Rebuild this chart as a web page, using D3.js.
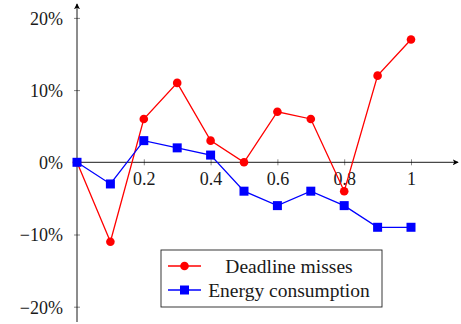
<!DOCTYPE html>
<html>
<head>
<meta charset="utf-8">
<script src="https://cdn.jsdelivr.net/npm/d3@7"></script>
<style>
  body { margin: 0; background: #fff; }
  svg text { font-family: "Liberation Serif", "DejaVu Serif", serif; fill: #1a1a1a; }
</style>
</head>
<body>
<div id="chart"></div>
<script>
// data
var xs = [0, 0.1, 0.2, 0.3, 0.4, 0.5, 0.6, 0.7, 0.8, 0.9, 1];
var deadlineMisses = [0, -11, 6, 11, 3, 0, 7, 6, -4, 12, 17];
var energyConsumption = [0, -3, 3, 2, 1, -4, -6, -4, -6, -9, -9];
var xTicks = [0.2, 0.4, 0.6, 0.8, 1];
var yTicks = [-20, -10, 0, 10, 20];
var seriesNames = ["Deadline misses", "Energy consumption"];

var width = 461, height = 324;

var svg = d3.select("#chart").append("svg")
  .attr("width", width)
  .attr("height", height);

var x = d3.scaleLinear().domain([0, 1]).range([77, 411]);
var y = d3.scaleLinear().domain([-20, 20]).range([306.7, 17.9]);

svg.append("defs").append("marker")
  .attr("id", "arrow")
  .attr("viewBox", "0 0 8 8")
  .attr("refX", 7).attr("refY", 4)
  .attr("markerWidth", 6).attr("markerHeight", 6)
  .attr("markerUnits", "userSpaceOnUse")
  .attr("orient", "auto")
  .append("path")
  .attr("d", "M0,0 L8,4 L0,8 L2,4 Z")
  .attr("fill", "#000");

// x axis
var xAxis = d3.axisBottom(x)
  .tickValues(xTicks)
  .tickSize(3)
  .tickPadding(6)
  .tickFormat(function(d) { return d === 1 ? "1" : d3.format(".1f")(d); });
var gx = svg.append("g")
  .attr("transform", "translate(0," + y(0) + ")")
  .call(xAxis);
gx.select(".domain").remove();
gx.selectAll(".tick line").attr("y1", -3).attr("y2", 3).attr("stroke", "#888");
gx.selectAll(".tick text").attr("font-size", 18).attr("dy", "0.75em");

// y axis
var yAxis = d3.axisLeft(y)
  .tickValues(yTicks)
  .tickSize(3)
  .tickPadding(11)
  .tickFormat(function(d) { return (d < 0 ? "\u2212" + (-d) : d) + "%"; });
var gy = svg.append("g")
  .attr("transform", "translate(" + x(0) + ",0)")
  .call(yAxis);
gy.select(".domain").remove();
gy.selectAll(".tick line").attr("x1", -3).attr("x2", 3).attr("stroke", "#888");
gy.selectAll(".tick text").attr("font-size", 18).attr("dy", "0.35em");

// axis lines with arrows
svg.append("line")
  .attr("x1", x(0)).attr("x2", 458)
  .attr("y1", y(0)).attr("y2", y(0))
  .attr("stroke", "#000").attr("stroke-width", 0.9)
  .attr("marker-end", "url(#arrow)");
svg.append("line")
  .attr("x1", x(0)).attr("x2", x(0))
  .attr("y1", 322).attr("y2", 4)
  .attr("stroke", "#000").attr("stroke-width", 0.9)
  .attr("marker-end", "url(#arrow)");

var line = d3.line()
  .x(function(d) { return x(d[0]); })
  .y(function(d) { return y(d[1]); });

var redPts = xs.map(function(v, i) { return [v, deadlineMisses[i]]; });
var bluePts = xs.map(function(v, i) { return [v, energyConsumption[i]]; });

svg.append("path").datum(redPts)
  .attr("d", line).attr("fill", "none")
  .attr("stroke", "#ff0000").attr("stroke-width", 1.3);
svg.selectAll(".red-dot").data(redPts).enter().append("circle")
  .attr("class", "red-dot")
  .attr("cx", function(d) { return x(d[0]); })
  .attr("cy", function(d) { return y(d[1]); })
  .attr("r", 4.3).attr("fill", "#ff0000");

svg.append("path").datum(bluePts)
  .attr("d", line).attr("fill", "none")
  .attr("stroke", "#0000ff").attr("stroke-width", 1.3);
svg.selectAll(".blue-sq").data(bluePts).enter().append("rect")
  .attr("class", "blue-sq")
  .attr("x", function(d) { return x(d[0]) - 4.5; })
  .attr("y", function(d) { return y(d[1]) - 4.5; })
  .attr("width", 9).attr("height", 9).attr("fill", "#0000ff");

// legend
var legend = svg.append("g").attr("id", "legend");
legend.append("rect")
  .attr("x", 161).attr("y", 250)
  .attr("width", 221).attr("height", 57)
  .attr("fill", "#fff").attr("stroke", "#222").attr("stroke-width", 0.9);

var legendRows = [
  { name: seriesNames[0], color: "#ff0000", shape: "circle", cy: 266 },
  { name: seriesNames[1], color: "#0000ff", shape: "square", cy: 290 }
];
legendRows.forEach(function(r) {
  legend.append("line")
    .attr("x1", 168).attr("x2", 201)
    .attr("y1", r.cy).attr("y2", r.cy)
    .attr("stroke", r.color).attr("stroke-width", 1.3);
  if (r.shape === "circle") {
    legend.append("circle").attr("cx", 184.5).attr("cy", r.cy).attr("r", 4.3).attr("fill", r.color);
  } else {
    legend.append("rect").attr("x", 180).attr("y", r.cy - 4.5).attr("width", 9).attr("height", 9).attr("fill", r.color);
  }
  legend.append("text")
    .attr("x", 289).attr("y", r.cy)
    .attr("dy", "0.35em")
    .attr("text-anchor", "middle")
    .attr("font-size", 19.5)
    .text(r.name);
});
</script>
</body>
</html>
